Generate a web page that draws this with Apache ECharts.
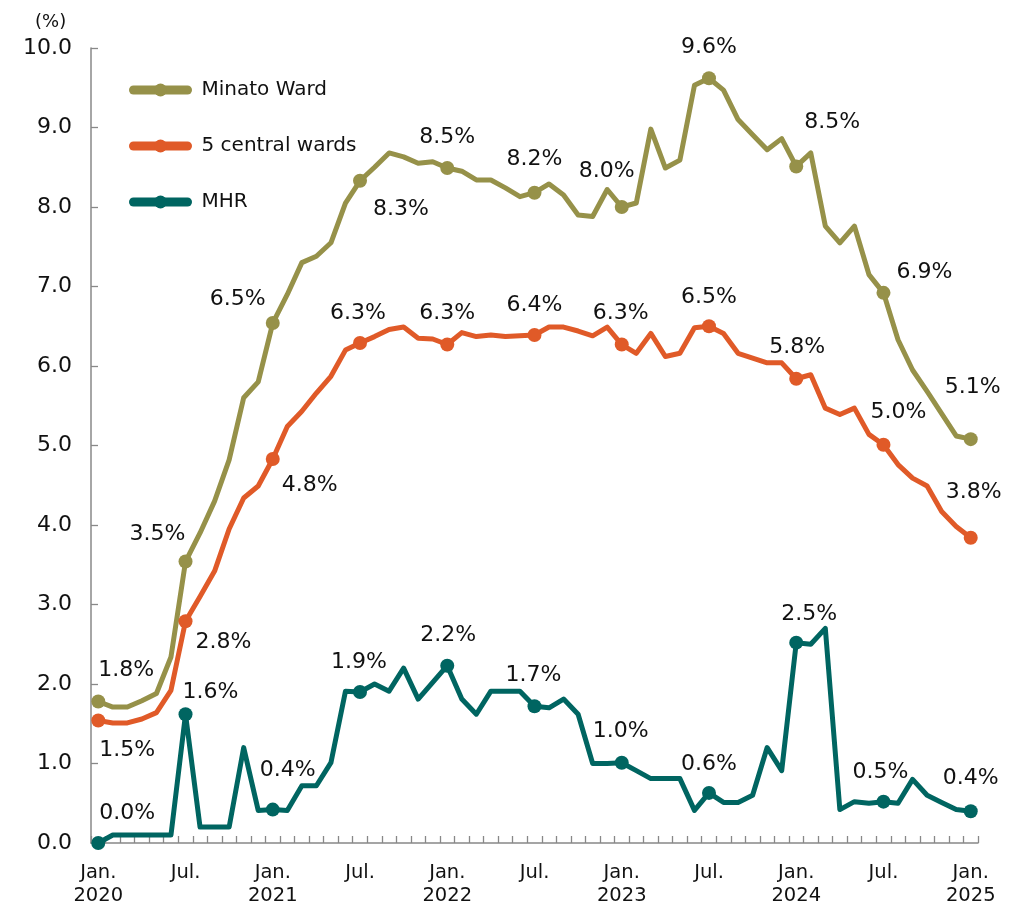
<!DOCTYPE html>
<html>
<head>
<meta charset="utf-8">
<script src="https://cdn.jsdelivr.net/npm/echarts@6/dist/echarts.min.js"></script>
<style>
  html, body { margin: 0; padding: 0; background: #fff; }
  #chart { width: 1019px; height: 907px; }
</style>
</head>
<body>
<div id="chart"></div>
<script>
// monthly, Jan. 2020 - Jan. 2025
const months = [];
for (let y = 2020; y <= 2025; y++) {
  for (let m = 1; m <= 12; m++) {
    if (y === 2025 && m > 1) break;
    months.push(y + '-' + String(m).padStart(2, '0'));
  }
}

// one label every 6 months
const tickLabels = ['Jan.\n2020', 'Jul.', 'Jan.\n2021', 'Jul.', 'Jan.\n2022', 'Jul.',
  'Jan.\n2023', 'Jul.', 'Jan.\n2024', 'Jul.', 'Jan.\n2025'];

const seriesNames = ['Minato Ward', '5 central wards', 'MHR'];

const minatoWard = [
  1.78, 1.71, 1.71, 1.79, 1.88, 2.34, 3.54, 3.9, 4.3, 4.82, 5.6, 5.8,
  6.54, 6.9, 7.3, 7.38, 7.55, 8.05, 8.33, 8.5, 8.68, 8.63, 8.55, 8.57,
  8.49, 8.45, 8.34, 8.34, 8.24, 8.13, 8.18, 8.29, 8.15, 7.9, 7.88, 8.22,
  8.0, 8.05, 8.98, 8.49, 8.59, 9.53, 9.62, 9.47, 9.1, 8.91, 8.72, 8.86,
  8.51, 8.68, 7.76, 7.55, 7.76, 7.15, 6.92, 6.33, 5.95, 5.68, 5.4, 5.12,
  5.08
];

const centralWards = [
  1.54, 1.51, 1.51, 1.56, 1.64, 1.92, 2.79, 3.1, 3.42, 3.95, 4.34, 4.49,
  4.83, 5.24, 5.43, 5.66, 5.87, 6.2, 6.29, 6.37, 6.46, 6.49, 6.35, 6.34,
  6.27, 6.42, 6.37, 6.39, 6.37, 6.38, 6.39, 6.49, 6.49, 6.44, 6.38, 6.49,
  6.27, 6.16, 6.41, 6.12, 6.16, 6.48, 6.5, 6.41, 6.16, 6.1, 6.04, 6.04,
  5.84, 5.89, 5.47, 5.39, 5.47, 5.14, 5.01, 4.76, 4.59, 4.49, 4.17, 3.98,
  3.84
];

const mhr = [
  0.0, 0.1, 0.1, 0.1, 0.1, 0.1, 1.62, 0.2, 0.2, 0.2, 1.2, 0.41,
  0.42, 0.41, 0.72, 0.72, 1.01, 1.91, 1.9, 2.0, 1.91, 2.2, 1.81, 2.02,
  2.23, 1.81, 1.62, 1.91, 1.91, 1.91, 1.72, 1.7, 1.81, 1.62, 1.0, 1.0,
  1.01, 0.91, 0.81, 0.81, 0.81, 0.41, 0.63, 0.51, 0.51, 0.6, 1.2, 0.91,
  2.52, 2.5, 2.7, 0.42, 0.52, 0.5, 0.52, 0.5, 0.8, 0.6, 0.51, 0.42,
  0.4
];

// label offsets (px) from the marker, one per marked point (every 6 months)
const minatoOffsets = [[28, -31], [-28, -27], [-35, -24], [41, 29], [0, -31], [0, -33],
  [-15, -36], [0, -31], [36, -44], [41, -21], [2, -52]];
const centralOffsets = [[29, 30], [38, 21], [37, 26], [-2, -30], [0, -31], [0, -30],
  [-1, -31], [0, -29], [1, -31], [15, -32], [3, -45]];
const mhrOffsets = [[29, -30], [25, -22], [15, -39], [-1, -30], [1, -30], [-1, -31],
  [-1, -31], [0, -29], [13, -28], [-3, -29], [0, -33]];

const colors = ['#969149', '#e05a28', '#006561'];
const FONT = '"DejaVu Sans", Verdana, sans-serif';

const buildData = (values, offsets) => values.map((v, i) => {
  if (i % 6 !== 0) return { value: v, symbol: 'none' };
  return {
    value: v,
    label: { show: true, offset: offsets[i / 6] }
  };
});

const makeSeries = (name, values, offsets, color) => ({
  name: name,
  type: 'line',
  data: buildData(values, offsets),
  symbol: 'circle',
  symbolSize: 14,
  showAllSymbol: true,
  lineStyle: { color: color, width: 5, join: 'round' },
  itemStyle: { color: color },
  label: {
    show: false,
    position: 'inside',
    color: '#111',
    fontFamily: FONT,
    fontSize: 22,
    formatter: (p) => p.value.toFixed(1) + '%'
  },
  emphasis: { disabled: true },
  animation: false,
  z: 2
});

const chart = echarts.init(document.getElementById('chart'));

chart.setOption({
  backgroundColor: '#fff',
  title: {
    text: '(%)',
    left: 30,
    top: 8,
    textStyle: { fontFamily: FONT, fontSize: 18, fontWeight: 'normal', color: '#111' }
  },
  legend: {
    orient: 'vertical',
    left: 124,
    top: 75,
    itemWidth: 54,
    itemHeight: 16,
    itemGap: 36,
    data: seriesNames,
    lineStyle: { width: 9, cap: 'round' },
    textStyle: { fontFamily: FONT, fontSize: 20, color: '#111', padding: [0, 0, 0, 9] }
  },
  grid: { left: 91, right: 41, top: 48, bottom: 63 },
  xAxis: {
    type: 'category',
    data: months,
    boundaryGap: true,
    axisLine: { lineStyle: { color: '#888', width: 1.5 } },
    axisTick: { show: true, inside: true, length: 7, interval: 0, lineStyle: { color: '#888', width: 1.3 } },
    axisLabel: {
      interval: 0,
      margin: 18,
      color: '#111',
      fontFamily: FONT,
      fontSize: 19.5,
      lineHeight: 23,
      formatter: (val, idx) => (idx % 6 === 0 ? tickLabels[idx / 6] : '')
    },
    splitLine: { show: false }
  },
  yAxis: {
    type: 'value',
    min: 0,
    max: 10,
    interval: 1,
    axisLine: { show: true, lineStyle: { color: '#888', width: 1.5 } },
    axisTick: { show: true, inside: true, length: 7, lineStyle: { color: '#888', width: 1.3 } },
    axisLabel: {
      margin: 19,
      color: '#111',
      fontFamily: FONT,
      fontSize: 22,
      formatter: (v) => v.toFixed(1)
    },
    splitLine: { show: false }
  },
  series: [
    makeSeries(seriesNames[0], minatoWard, minatoOffsets, colors[0]),
    makeSeries(seriesNames[1], centralWards, centralOffsets, colors[1]),
    makeSeries(seriesNames[2], mhr, mhrOffsets, colors[2])
  ]
});

window.addEventListener('resize', () => chart.resize());
</script>
</body>
</html>
